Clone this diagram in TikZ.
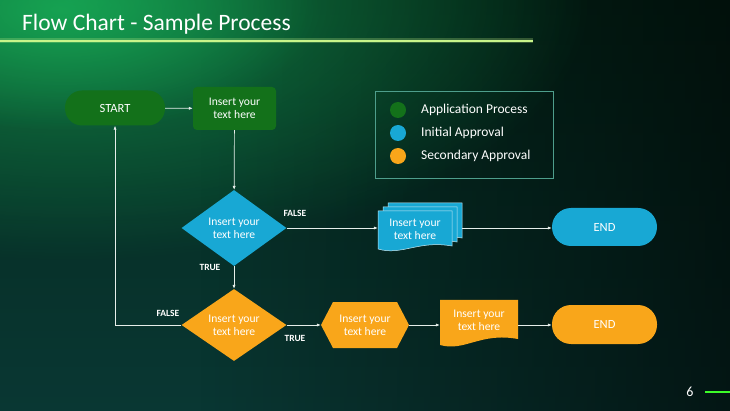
\documentclass[tikz,border=0pt]{standalone}
\usepackage{fontspec}
\setmainfont{Carlito}
\usetikzlibrary{shapes.geometric,arrows.meta,fadings}
\definecolor{bgtop}{HTML}{04291C}
\definecolor{bgbot}{HTML}{093733}
\definecolor{glow}{HTML}{19B45A}
\definecolor{appgreen}{HTML}{13711A}
\definecolor{initblue}{HTML}{18A8D4}
\definecolor{secorange}{HTML}{F9A61A}
\definecolor{legendline}{HTML}{4E9E8C}
\definecolor{titleline}{HTML}{C8F58A}
\definecolor{conn}{HTML}{E6EEEA}
\tikzfading[name=glowfade, inner color=transparent!0, outer color=transparent!100]
\begin{document}
\begin{tikzpicture}[x=1pt,y=-1pt,
  txt/.style={text=white, align=center, inner sep=0pt, font=\fontsize{11.6}{13}\selectfont},
  startbox/.style={txt, fill=appgreen, rounded corners=17pt, minimum width=100pt, minimum height=35pt, font=\fontsize{12.5}{14}\selectfont},
  greenbox/.style={txt, fill=appgreen, rounded corners=4pt, minimum width=83pt, minimum height=43pt},
  bluedia/.style={txt, diamond, fill=initblue, aspect=1.38, minimum width=105pt, minimum height=76pt},
  orangedia/.style={txt, diamond, fill=secorange, aspect=1.45, minimum width=105pt, minimum height=72pt},
  endbox/.style={txt, rounded corners=19pt, minimum width=105pt, minimum height=38pt, font=\fontsize{12.5}{14}\selectfont},
  plain/.style={txt, minimum width=#1},
  conn/.style={draw=conn, line width=0.7pt},
  arr/.style={conn, -{Latex[length=4pt,width=3.2pt]}},
  lab/.style={text=white, inner sep=0pt, font=\fontsize{9.5}{10}\selectfont\bfseries},
  legtxt/.style={text=white, anchor=west, inner sep=0pt, font=\fontsize{13.5}{15}\selectfont},
  docfill/.style={fill=initblue, draw=white!75!initblue, line width=0.5pt}
]
\useasboundingbox (0,0) rectangle (730,411);
% background
\shade[top color=bgtop, bottom color=bgbot] (0,0) rectangle (730,411);
\fill[black, opacity=0.6, path fading=west] (200,0) rectangle (730,411);
\begin{scope}
\clip (0,0) rectangle (730,411);
\fill[glow, opacity=0.65, path fading=glowfade] (70,0) ellipse [x radius=520pt, y radius=260pt];
\fill[glow, opacity=0.65, path fading=glowfade] (60,10) ellipse [x radius=260pt, y radius=120pt];
\end{scope}
% title
\node[anchor=base west, text=white, inner sep=0pt, font=\fontsize{23.5}{26}\selectfont] (title) at (22,31) {Flow Chart - Sample Process};
\draw[titleline, line width=5pt, opacity=0.25] (0,41) -- (533,41);
\draw[titleline, line width=1.6pt] (0,41) -- (533,41);
\draw[green!70!titleline, line width=1.5pt] (705,392) -- (730,392);
\node[text=white, inner sep=0pt, font=\fontsize{14}{15}\selectfont] (pagenum) at (690,392) {6};
% legend
\draw[legendline, line width=0.6pt] (375,91) rectangle (553,178);
\fill[appgreen] (398,110) circle (8pt);
\fill[initblue] (398,133) circle (8pt);
\fill[secorange] (398,156) circle (8pt);
\node[legtxt] (lg1) at (421,110) {Application Process};
\node[legtxt] (lg2) at (421,133) {Initial Approval};
\node[legtxt] (lg3) at (421,156) {Secondary Approval};
% multi document shape (blue)
\foreach \dx/\dy in {10/-8, 5/-4, 0/0}{
  \begin{scope}[shift={(\dx,\dy)}]
  \path[docfill] (378,211) -- (452,211) -- (452,246) .. controls (418,240) and (402,256) .. (378,249) -- cycle;
  \end{scope}
}
% hexagon (orange)
\fill[secorange] (321,325) -- (333,302) -- (397,302) -- (409,325) -- (397,348) -- (333,348) -- cycle;
% document (orange)
\fill[secorange] (440,300) -- (518,300) -- (518,339) .. controls (480,332) and (465,352) .. (440,345) -- cycle;
% nodes
\node[startbox] (start) at (115,108) {START};
\node[greenbox] (box1) at (234.5,108.5) {Insert your\\text here};
\node[bluedia] (d1) at (234,228) {Insert your\\text here};
\node[plain=74pt] (mdoc) at (415,229) {Insert your\\text here};
\coordinate (mdocR) at (462,228);
\node[endbox, fill=initblue] (end1) at (604.5,227) {END};
\node[orangedia] (d2) at (234,325) {Insert your\\text here};
\node[plain=88pt] (hex) at (365,325) {Insert your\\text here};
\node[plain=78pt] (doc) at (479,320) {Insert your\\text here};
\node[endbox, fill=secorange, minimum height=39pt] (end2) at (604.5,324.5) {END};
% labels
\node[lab] (f1) at (295,213) {FALSE};
\node[lab] (t1) at (210,267) {TRUE};
\node[lab] (f2) at (168,313) {FALSE};
\node[lab] (t2) at (295,338) {TRUE};
% connectors
\draw[arr] (start) -- (box1);
\draw[arr] (box1) -- (d1);
\draw[arr] (d1.east) -- (d1.east -| mdoc.west);
\draw[arr] (mdocR) -- (mdocR -| end1.west);
\draw[arr] (d1) -- (d2);
\draw[arr] (d2.west) -| (start.south);
\draw[arr] (d2.east) -- (hex.west);
\draw[arr] (hex.east) -- (hex.east -| doc.west);
\draw[arr] (hex.east -| doc.east) -- (hex.east -| end2.west);
\end{tikzpicture}
\end{document}
